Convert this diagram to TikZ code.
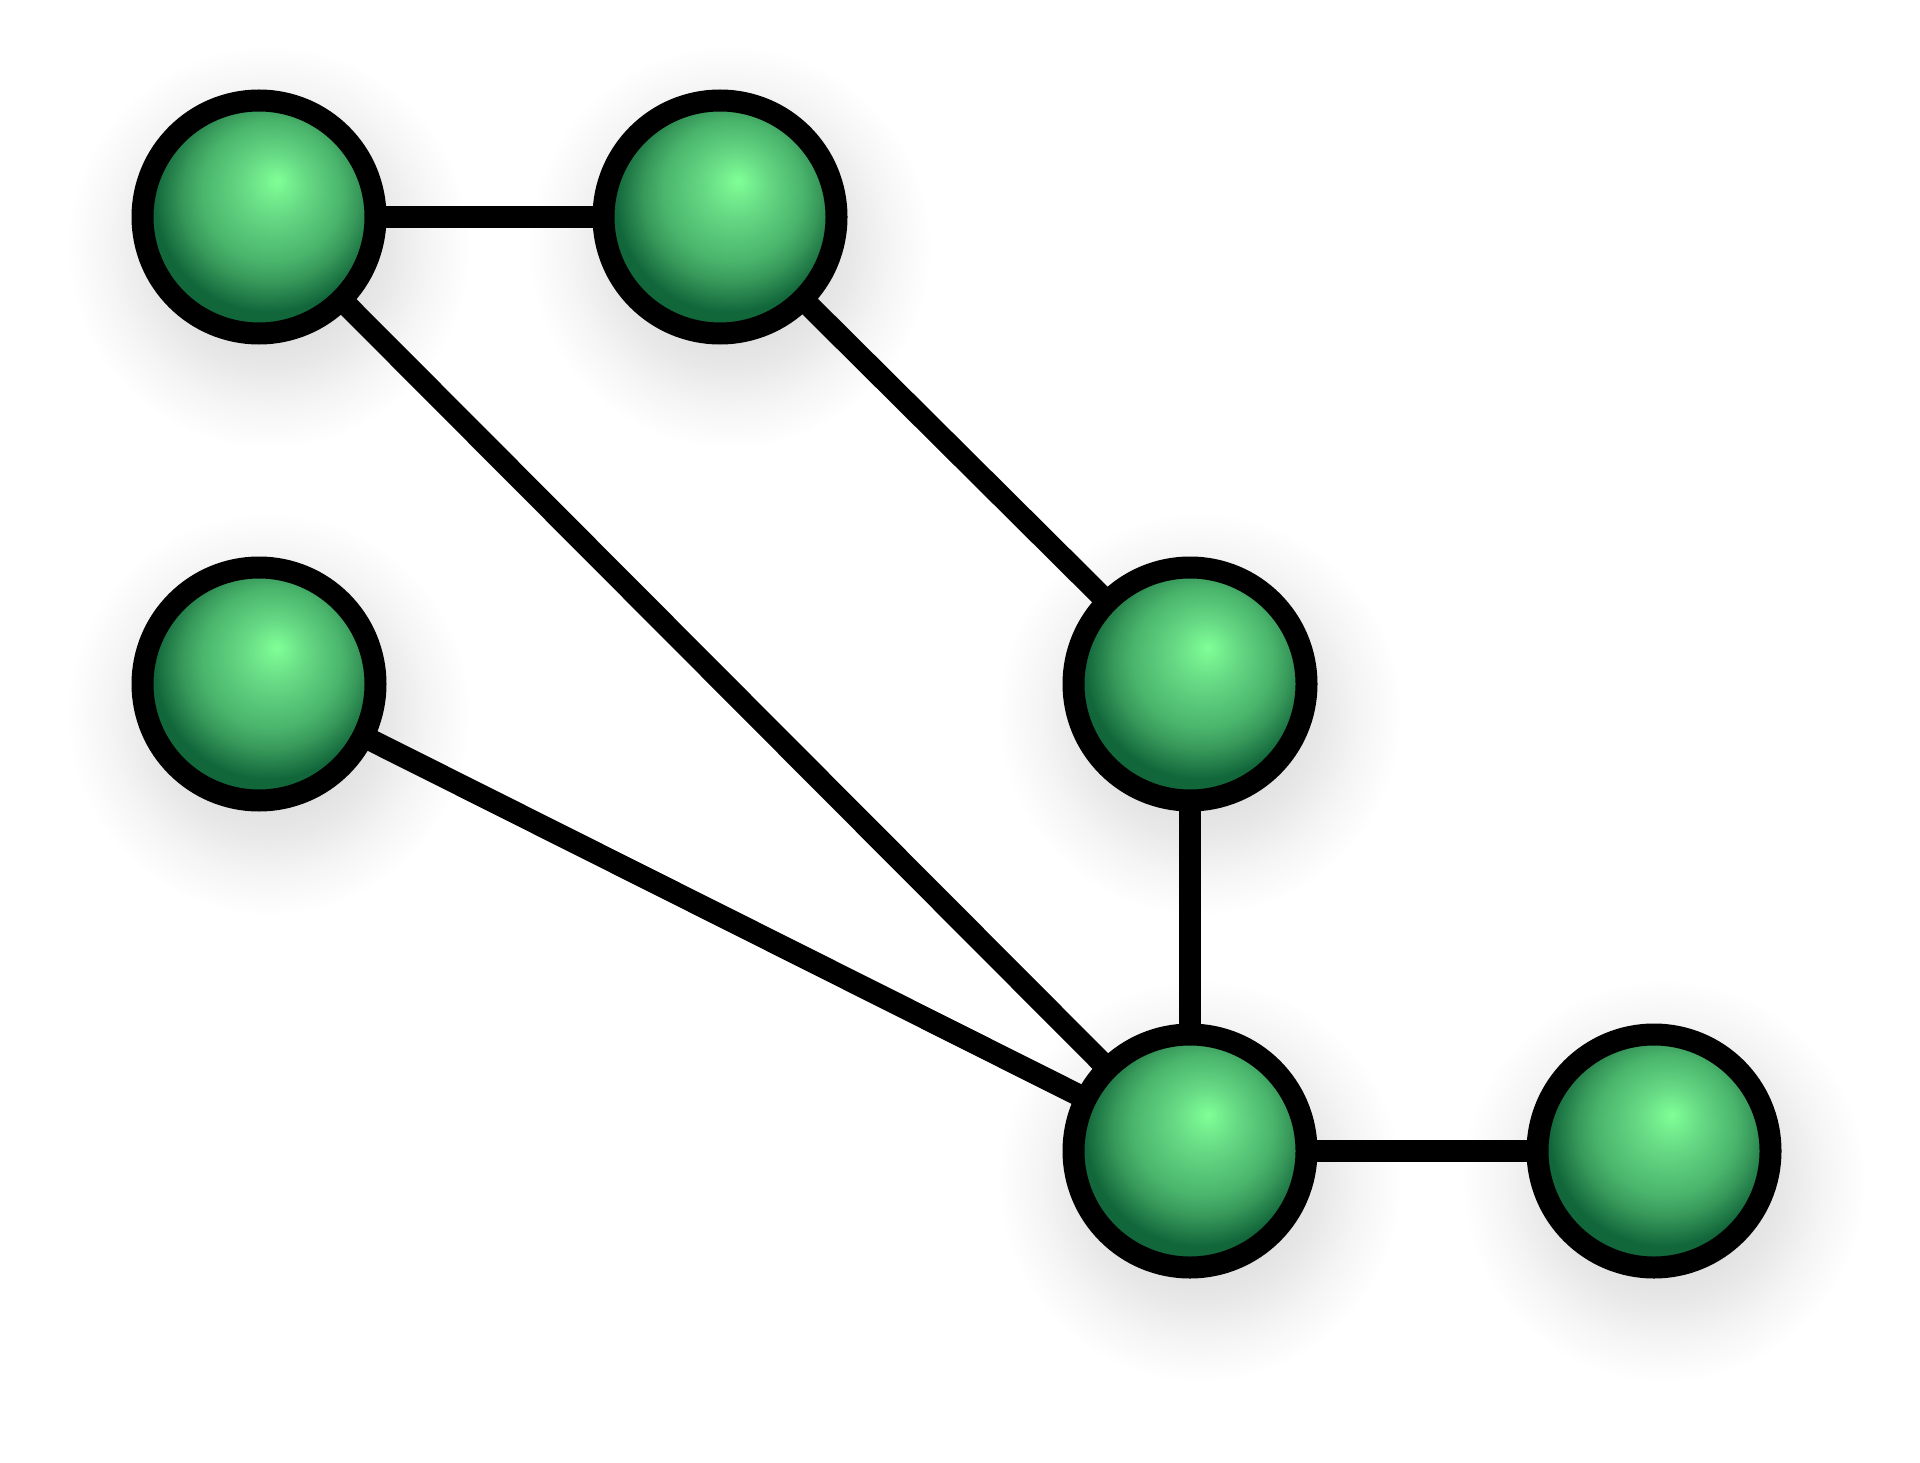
\documentclass[tikz,border=0pt]{standalone}
\usetikzlibrary{fadings}
\definecolor{gA}{HTML}{80FF96}
\definecolor{gB}{HTML}{66D884}
\definecolor{gC}{HTML}{4AB56C}
\definecolor{gD}{HTML}{37985A}
\definecolor{gE}{HTML}{11663A}
\pgfdeclareradialshading{ballshade}{\pgfpoint{3.9bp}{7.9bp}}{color(0bp)=(gA); color(7bp)=(gB); color(15bp)=(gC); color(19bp)=(gD); color(24.5bp)=(gE); color(50bp)=(gE)}
\pgfdeclareradialshading{glowshade}{\pgfpointorigin}{color(0bp)=(white); color(9bp)=(white!90!black); color(15bp)=(white!60!black); color(20bp)=(white!25!black); color(25bp)=(black); color(50bp)=(black)}
\pgfdeclarefading{glow}{\pgfuseshading{glowshade}}
\pgfdeclarelayer{shadowlayer}
\pgfdeclarelayer{edgelayer}
\pgfsetlayers{shadowlayer,edgelayer,main}
\tikzset{
  ballnode/.style={circle, draw=black, line width=22pt, minimum size=233pt, inner sep=0pt, shading=ballshade},
  edgeline/.style={draw=black, line width=22pt},
  glowshadow/.style={fill=black!15, path fading=glow, fit fading=true}
}
\begin{document}
\begin{tikzpicture}[x=1pt,y=-1pt]
\begin{pgfonlayer}{shadowlayer}
\fill[white] (0,0) rectangle (1920,1463);
\end{pgfonlayer}
\useasboundingbox (0,0) rectangle (1920,1463);
\node[ballnode] (A) at (259,217) {};
\node[ballnode] (B) at (720,217) {};
\node[ballnode] (C) at (259,684) {};
\node[ballnode] (D) at (1190,684) {};
\node[ballnode] (E) at (1190,1151) {};
\node[ballnode] (F) at (1654,1151) {};
\begin{pgfonlayer}{shadowlayer}
\foreach \n in {A,B,C,D,E,F}{
  \path[glowshadow] ([shift={(10,30)}]\n.center) circle (200pt);
}
\end{pgfonlayer}
\begin{pgfonlayer}{edgelayer}
\draw[edgeline] (A.center) -- (B.center);
\draw[edgeline] (A.center) -- (E.center);
\draw[edgeline] (B.center) -- (D.center);
\draw[edgeline] (C.center) -- (E.center);
\draw[edgeline] (D.center) -- (E.center);
\draw[edgeline] (E.center) -- (F.center);
\end{pgfonlayer}
\end{tikzpicture}
\end{document}
